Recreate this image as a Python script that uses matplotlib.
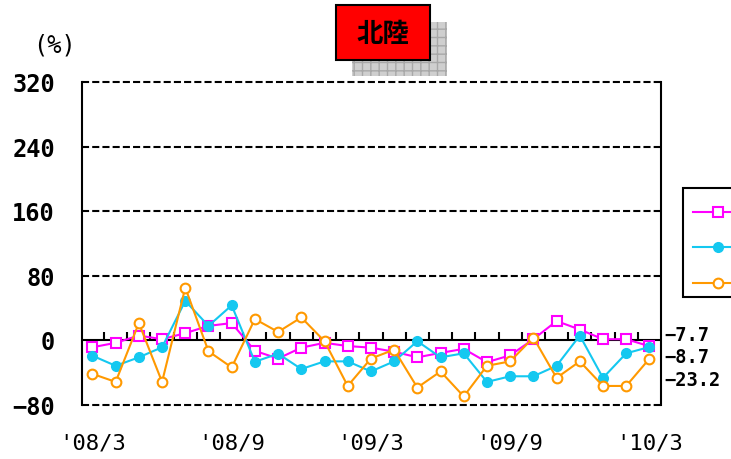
import numpy as np
import matplotlib
matplotlib.use("Agg")
import matplotlib.pyplot as plt
from matplotlib.patches import Rectangle

# monthly change (%), Mar 2008 .. Mar 2010
series_a = [-9, -3.5, 5.5, 1, 8.5, 17.5, 21, -13.5, -23, -9.5, -3.5, -7.5, -9.5,
            -14.5, -21.5, -16, -11, -27.5, -19, 1, 23.5, 13, 1, 1, -7.7]
series_b = [-19.5, -32, -21.5, -9, 48.5, 17.5, 43, -27, -17, -36, -26.5, -26.5, -39,
            -26.5, -1.5, -21.5, -16.5, -52, -45, -45, -32, 5.5, -47, -16.5, -8.7]
series_c = [-42, -52, 21, -52, 65, -14, -34, 26, 10, 28, -1.5, -57, -23,
            -12, -59, -39, -70, -32, -26.5, 3, -47, -26.5, -57, -57, -23.2]
series_names = ['系列1', '系列2', '系列3']
tick_pos = [0, 6, 12, 18, 24]
tick_labels = ["'08/3", "'08/9", "'09/3", "'09/9", "'10/3"]
yticks = [-80, 0, 80, 160, 240, 320]

W, H = 731, 460
fig = plt.figure(figsize=(W / 100, H / 100), dpi=100)
ax = fig.add_axes([82 / W, 1 - 405.5 / H, 579 / W, 322.5 / H])

x = np.arange(len(series_a))
dash = (0, (3.4, 1.5))

for y in yticks:
    if y == 0:
        ax.axhline(0, color='black', lw=1.5, zorder=1)
    else:
        ax.axhline(y, color='black', lw=1.5, ls=dash, zorder=1, clip_on=False)

# month separators on the zero line
ax.vlines(x[:-1] + 0.5, 0, 10, color='black', lw=1.5, zorder=1)

la, = ax.plot(x, series_a, color='#FF00FF', lw=1.5, marker='s', ms=6.5,
              mfc='white', mec='#FF00FF', mew=1.5, zorder=3)
lb, = ax.plot(x, series_b, color='#14C8F0', lw=1.5, marker='o', ms=7,
              mfc='#14C8F0', mec='#14C8F0', zorder=4)
lc, = ax.plot(x, series_c, color='#FF9900', lw=1.5, marker='o', ms=7,
              mfc='white', mec='#FF9900', mew=1.5, zorder=5)

ax.set_xlim(-0.45, 24.5)
ax.set_ylim(-80, 320)
ax.set_yticks(yticks)
ax.set_yticklabels([str(v).replace('-', '\u2212') for v in yticks],
                   fontfamily='DejaVu Sans Mono', fontweight='bold', fontsize=17)
ax.set_xticks(tick_pos)
ax.set_xticklabels(tick_labels, fontfamily='DejaVu Sans Mono', fontsize=16)
ax.tick_params(axis='y', length=0, pad=19.5)
ax.tick_params(axis='x', length=0, pad=20.5)
for s in ['top', 'bottom']:
    ax.spines[s].set_visible(False)
for s in ['left', 'right']:
    ax.spines[s].set_linewidth(1.5)

# latest values at the right edge
label_y = [0.217, 0.150, 0.076]
for v, yy in zip([series_a[-1], series_b[-1], series_c[-1]], label_y):
    ax.text(1.006, yy, f'{v:.1f}'.replace('-', '\u2212'), transform=ax.transAxes,
            fontfamily='DejaVu Sans Mono', fontweight='bold', fontsize=13.5,
            va='center', ha='left')

fig.text(55 / W, 1 - 45 / H, '(%)', fontfamily='DejaVu Sans Mono',
         fontsize=17, ha='center', va='center')

# title plate with hatched shadow
fig.patches.append(Rectangle((352 / W, 1 - 77 / H), 95 / W, 54 / H,
                             transform=fig.transFigure, facecolor='#cfcfcf',
                             edgecolor='#a8a8a8', hatch='++', lw=0))
fig.patches.append(Rectangle((336 / W, 1 - 61 / H), 94 / W, 55 / H,
                             transform=fig.transFigure, facecolor='#FF0000',
                             edgecolor='black', lw=1.5))
fig.text(383 / W, 1 - 35 / H, '北陸', fontfamily='Noto Sans CJK JP',
         fontweight='bold', fontsize=19, ha='center', va='center')

# legend box runs off the right edge of the figure
fig.patches.append(Rectangle((683 / W, 1 - 298 / H), 70 / W, 109 / H,
                             transform=fig.transFigure, facecolor='white',
                             edgecolor='black', lw=1.5, zorder=2))
leg = fig.legend([la, lb, lc], series_names, loc='center left',
                 bbox_to_anchor=(693 / W, 1 - 249.5 / H), borderaxespad=0,
                 frameon=False, prop={'family': 'Noto Sans CJK JP', 'size': 14},
                 handlelength=2.6, labelspacing=0.75, borderpad=0,
                 handletextpad=0.5)
leg.set_zorder(3)

fig.savefig('out.png', dpi=100)
